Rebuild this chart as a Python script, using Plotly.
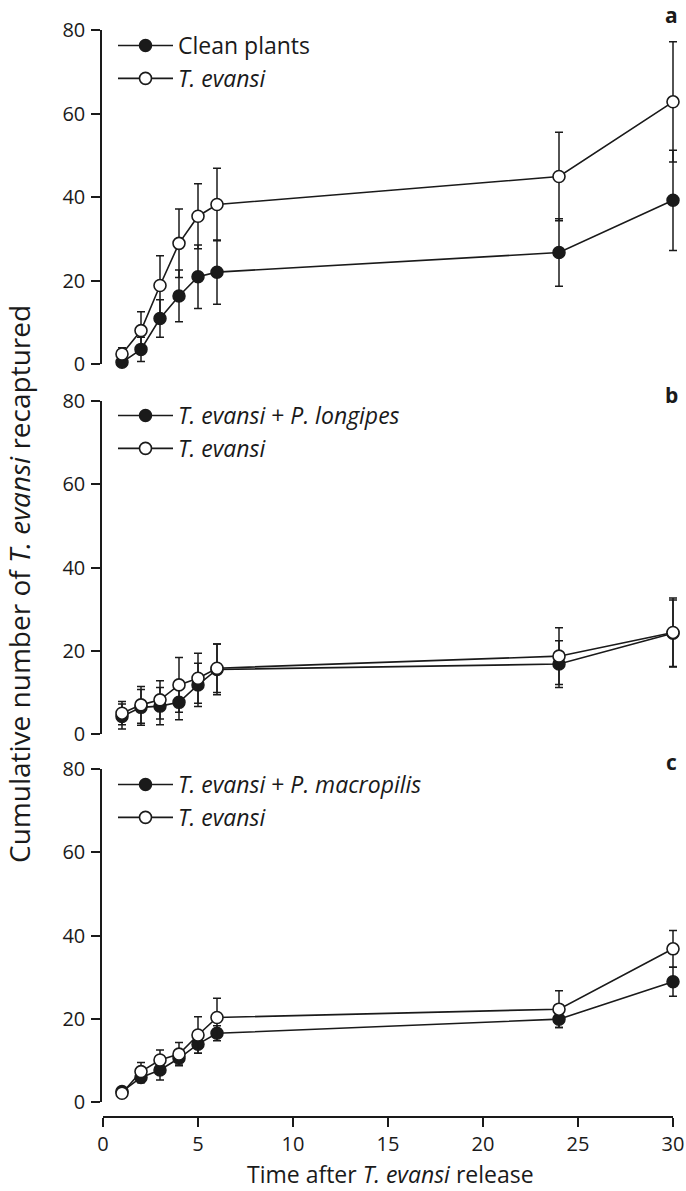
import plotly.graph_objects as go

# ---------------- data ----------------
times = [1, 2, 3, 4, 5, 6, 24, 30]

# panel a
a_clean = [0.4, 3.5, 10.9, 16.3, 20.9, 22.0, 26.7, 39.2]
a_clean_se = [0.5, 2.9, 4.5, 6.2, 7.6, 7.7, 8.1, 12.0]
a_tev = [2.4, 8.0, 18.8, 28.9, 35.4, 38.2, 44.9, 62.8]
a_tev_se = [1.5, 4.5, 7.1, 8.2, 7.8, 8.7, 10.6, 14.4]

# panel b
b_pl = [4.2, 6.4, 6.7, 7.6, 11.8, 15.5, 16.8, 24.2]
b_pl_se = [3.0, 4.3, 4.5, 4.2, 5.2, 6.1, 5.6, 8.0]
b_tev = [5.0, 7.0, 8.2, 11.8, 13.4, 15.8, 18.7, 24.4]
b_tev_se = [2.8, 4.4, 4.6, 6.6, 6.0, 5.8, 6.8, 8.3]

# panel c
c_pm = [2.5, 5.9, 7.7, 10.5, 13.9, 16.5, 19.9, 28.9]
c_pm_se = [0.6, 1.3, 2.4, 1.6, 2.2, 1.8, 2.0, 3.5]
c_tev = [2.1, 7.3, 10.1, 11.5, 16.1, 20.3, 22.3, 36.8]
c_tev_se = [0.5, 2.2, 2.4, 2.8, 4.4, 4.6, 4.4, 4.4]

y_ticks = [0, 20, 40, 60, 80]
x_ticks = [0, 5, 10, 15, 20, 25, 30]

# ---------------- layout geometry ----------------
W, H = 686, 1191
def py(p):
    return 1 - p / H
def px(p):
    return p / W

INK = "#1a1a1a"
FONT = "Open Sans"
UNIT = 19.0                     # px per x unit
X0 = 103.0                      # pixel of x = 0
XR = [-0.5, 30.6]               # data range (slightly wider so marks at 30 are not clipped)

fig = go.Figure()

panels = [
    ("a", a_clean, a_clean_se, "Clean plants", a_tev, a_tev_se, "legend"),
    ("b", b_pl, b_pl_se, "<i>T. evansi</i> + <i>P. longipes</i>", b_tev, b_tev_se, "legend2"),
    ("c", c_pm, c_pm_se, "<i>T. evansi</i> + <i>P. macropilis</i>", c_tev, c_tev_se, "legend3"),
]

for i, (lab, fy, fse, fname, oy, ose, leg) in enumerate(panels):
    xa = "x" if i == 0 else f"x{i+1}"
    ya = "y" if i == 0 else f"y{i+1}"
    fig.add_trace(go.Scatter(
        x=times, y=fy, mode="lines+markers", name=fname,
        xaxis=xa, yaxis=ya, legend=leg, cliponaxis=False,
        line=dict(color=INK, width=1.6),
        marker=dict(symbol="circle", size=12, color=INK, line=dict(color=INK, width=1.5)),
        error_y=dict(type="data", array=fse, visible=True, color=INK, thickness=1.5, width=4),
    ))
    fig.add_trace(go.Scatter(
        x=times, y=oy, mode="lines+markers", name="<i>T. evansi</i>",
        xaxis=xa, yaxis=ya, legend=leg, cliponaxis=False,
        line=dict(color=INK, width=1.6),
        marker=dict(symbol="circle", size=12, color="white", line=dict(color=INK, width=1.6)),
        error_y=dict(type="data", array=ose, visible=True, color=INK, thickness=1.5, width=4),
    ))

# empty carrier trace so the shared time axis (x4) is drawn
fig.add_trace(go.Scatter(x=x_ticks, y=[None] * len(x_ticks), xaxis="x4", yaxis="y3",
                         mode="markers", showlegend=False, hoverinfo="skip"))

xdom_data = [px(X0 + XR[0] * UNIT), px(X0 + XR[1] * UNIT)]
xdom_axis = [px(X0), px(X0 + 30 * UNIT)]
ydoms = [[py(364), py(30)], [py(734), py(401)], [py(1102), py(769)]]

yaxis_common = dict(
    range=[0, 80], tickvals=y_ticks, showline=True, linecolor=INK, linewidth=1.5,
    ticks="outside", ticklen=9, tickwidth=1.5, tickcolor=INK, showgrid=False,
    zeroline=False, tickfont=dict(family=FONT, size=20, color=INK), ticklabelstandoff=2,
    anchor="free", position=px(101), automargin=False,
)

hidden_x = dict(domain=xdom_data, range=XR, visible=False, automargin=False)

layout = dict(
    width=W, height=H, margin=dict(l=0, r=0, t=0, b=0, autoexpand=False),
    paper_bgcolor="white", plot_bgcolor="rgba(0,0,0,0)",
    font=dict(family=FONT, color=INK, size=20),
    xaxis=dict(anchor="y", **hidden_x),
    xaxis2=dict(anchor="y2", **hidden_x),
    xaxis3=dict(anchor="y3", **hidden_x),
    xaxis4=dict(domain=xdom_axis, range=[0, 30], anchor="free", position=py(1117),
                tickvals=x_ticks, showline=True, linecolor=INK, linewidth=1.5,
                ticks="outside", ticklen=9, tickwidth=1.5, tickcolor=INK,
                showgrid=False, zeroline=False, automargin=False,
                tickfont=dict(family=FONT, size=20, color=INK)),
    yaxis=dict(domain=ydoms[0], **yaxis_common),
    yaxis2=dict(domain=ydoms[1], **yaxis_common),
    yaxis3=dict(domain=ydoms[2], **yaxis_common),
    showlegend=True,
)

leg_common = dict(xanchor="left", yanchor="top", bgcolor="rgba(0,0,0,0)",
                  font=dict(family=FONT, size=23, color=INK), itemwidth=55,
                  tracegroupgap=0, traceorder="normal", borderwidth=0)
layout["legend"] = dict(x=px(113), y=py(24), **leg_common)
layout["legend2"] = dict(x=px(113), y=py(394), **leg_common)
layout["legend3"] = dict(x=px(113), y=py(763), **leg_common)

fig.update_layout(**layout)

# panel letters
for lab, ypos in [("a", 15), ("b", 395), ("c", 762)]:
    fig.add_annotation(x=px(671), y=py(ypos), xref="paper", yref="paper",
                       xanchor="center", yanchor="middle",
                       text=f"<b>{lab}</b>", showarrow=False,
                       font=dict(family=FONT, size=21, color=INK))

fig.add_annotation(x=px(390), y=py(1191), xref="paper", yref="paper",
                   xanchor="center", yanchor="bottom", borderpad=0,
                   text="Time after <i>T. evansi</i> release", showarrow=False,
                   font=dict(family=FONT, size=23, color=INK))
fig.add_annotation(x=px(19), y=py(584), xref="paper", yref="paper",
                   xanchor="center", yanchor="middle",
                   text="Cumulative number of <i>T. evansi</i> recaptured", showarrow=False,
                   textangle=-90, font=dict(family=FONT, size=28, color=INK))

# remove the default 8px page margin so the figure fills the 686x1191 window exactly
fig.write_html("out.html", config={"displayModeBar": False},
               post_script="document.body.style.margin='0px';document.body.style.overflow='hidden';")
